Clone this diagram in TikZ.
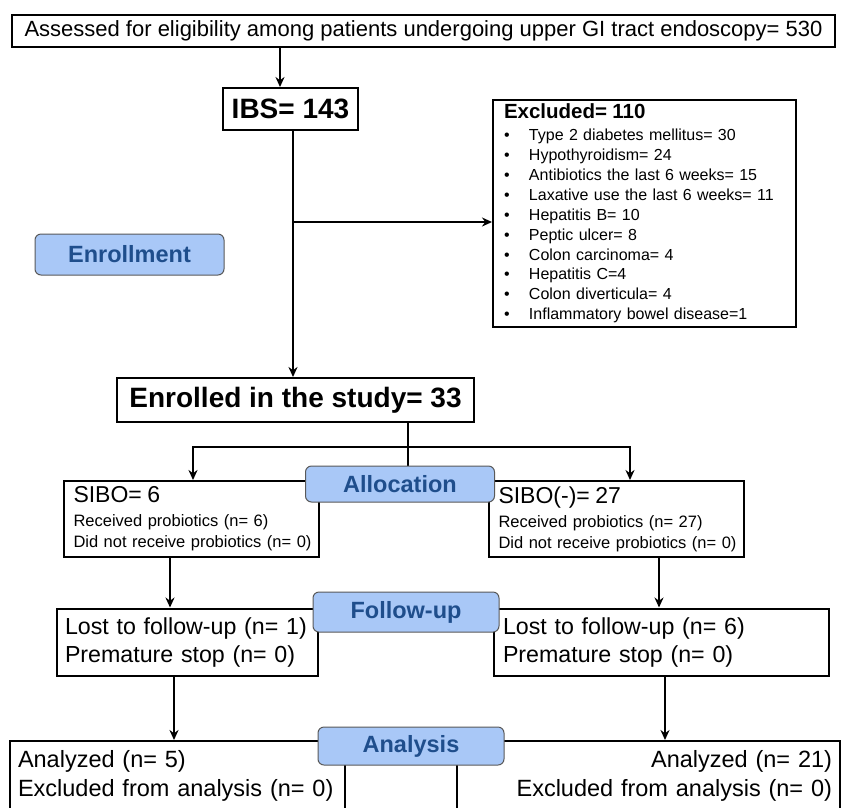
\documentclass[tikz,border=0pt]{standalone}
\usepackage{fontspec}
\setmainfont{Liberation Sans}
\usetikzlibrary{arrows.meta,calc}
\definecolor{bluefill}{HTML}{A9C8F7}
\definecolor{bluetext}{HTML}{1F4E8C}
\newcommand{\fsz}[2]{\fontsize{#1}{#2}\selectfont}
\newcommand{\itm}[1]{\hspace*{4pt}\makebox[25pt][l]{•}#1}
\hbadness=10000 \hfuzz=100pt
\begin{document}
\begin{tikzpicture}[x=1pt,y=-1pt,
 box/.style={draw=black,line width=2pt,fill=white,rectangle,inner ysep=0pt},
 phase/.style={draw=black!65,line width=1pt,fill=bluefill,rounded corners=6pt,text=bluetext,font=\fsz{23.5}{26}\bfseries,inner sep=0pt},
 arr/.style={line width=2pt,-{Stealth[length=10pt,width=9pt]}},
 ln/.style={line width=2pt}]
\useasboundingbox (0,0) rectangle (843,807);
\clip (0,0) rectangle (843,807);
\fill[white] (0,0) rectangle (843,807);

% white boxes
\node[box,minimum width=823pt,minimum height=32pt,font=\fsz{22}{24}] (top) at (423.5,31) {Assessed for eligibility among patients undergoing upper GI tract endoscopy= 530};
\node[box,minimum width=135pt,minimum height=42pt,font=\fsz{28}{30}\bfseries] (ibs) at (290.5,109) {IBS= 143};
\node[box,minimum width=303pt,minimum height=227pt,text width=289pt,inner xsep=7pt,align=left,font=\fsz{16}{19.9}] (excl) at (644.5,213.5) {{\fsz{20.5}{20}\bfseries\hspace*{4pt}Excluded= 110}\\[2pt]
\itm{Type 2 diabetes mellitus= 30}\\
\itm{Hypothyroidism= 24}\\
\itm{Antibiotics the last 6 weeks= 15}\\
\itm{Laxative use the last 6 weeks= 11}\\
\itm{Hepatitis B= 10}\\
\itm{Peptic ulcer= 8}\\
\itm{Colon carcinoma= 4}\\
\itm{Hepatitis C=4}\\
\itm{Colon diverticula= 4}\\
\itm{Inflammatory bowel disease=1}};
\node[box,minimum width=357pt,minimum height=44pt,font=\fsz{28}{30}\bfseries] (enrolled) at (295.5,400) {Enrolled in the study= 33};
\node[box,minimum width=255pt,minimum height=76pt,text width=236pt,inner xsep=9.5pt,align=left,font=\fsz{16.5}{21}] (sibo) at (191.5,519) {\mbox{\fsz{23}{22}SIBO= 6}\\[3pt]\mbox{Received probiotics (n= 6)}\\\mbox{Did not receive probiotics (n= 0)}};
\node[box,minimum width=255pt,minimum height=76pt,text width=236pt,inner xsep=9.5pt,align=left,font=\fsz{16.5}{21}] (sibon) at (616.5,519) {\mbox{\fsz{23}{22}SIBO(-)= 27}\\[3pt]\mbox{Received probiotics (n= 27)}\\\mbox{Did not receive probiotics (n= 0)}};
\node[box,minimum width=261pt,minimum height=67pt,text width=245pt,inner xsep=8pt,align=left,font=\fsz{23.2}{28}] (lostl) at (187.5,642) {\mbox{Lost to follow-up (n= 1)}\\\mbox{Premature stop (n= 0)}};
\node[box,minimum width=335pt,minimum height=67pt,text width=317pt,inner xsep=9pt,align=left,font=\fsz{23.2}{28}] (lostr) at (661.5,642) {\mbox{Lost to follow-up (n= 6)}\\\mbox{Premature stop (n= 0)}};
\node[box,minimum width=335pt,minimum height=70pt,text width=319pt,inner xsep=7pt,align=left,font=\fsz{23.5}{29}] (anl) at (177.5,776) {\mbox{Analyzed (n= 5)}\\\mbox{Excluded from analysis (n= 0)}};
\node[box,minimum width=383pt,minimum height=70pt,text width=367pt,inner xsep=7pt,align=right,font=\fsz{23.5}{29}] (anr) at (648.5,776) {\mbox{Analyzed (n= 21)}\\\mbox{Excluded from analysis (n= 0)}};

% connectors
\draw[arr] (top.south -| 280,0) -- (ibs.north -| 280,0);
\draw[arr] (ibs.south -| 293,0) -- (enrolled.north -| 293,0);
\coordinate (br) at (293,222);
\draw[arr] (br) -- (excl.west |- br);
\coordinate (split) at (408,447);
\draw[ln] (enrolled.south -| split) -- (408,480);
\draw[arr] (split) -| (sibo.north -| 193,0);
\draw[arr] (split) -| (sibon.north -| 630,0);
\draw[arr] (sibo.south -| 170,0) -- (lostl.north -| 170,0);
\draw[arr] (sibon.south -| 659,0) -- (lostr.north -| 659,0);
\draw[arr] (lostl.south -| 174,0) -- (anl.north -| 174,0);
\draw[arr] (lostr.south -| 665,0) -- (anr.north -| 665,0);

% phase labels
\node[phase,minimum width=189pt,minimum height=41pt] (enrol) at (129.5,254.5) {Enrollment};
\node[phase,minimum width=189pt,minimum height=36pt] (alloc) at (400,484) {Allocation};
\node[phase,minimum width=186pt,minimum height=40pt] (follow) at (406,612) {Follow-up};
\node[phase,minimum width=186pt,minimum height=38pt] (analysis) at (411,746) {Analysis};
\end{tikzpicture}
\end{document}
